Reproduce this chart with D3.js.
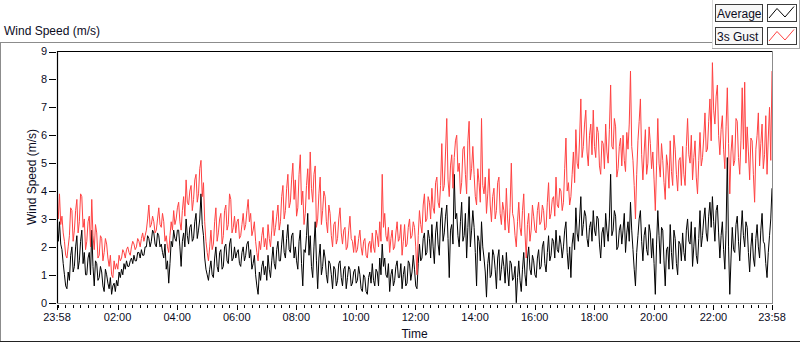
<!DOCTYPE html>
<html>
<head>
<meta charset="utf-8">
<script src="https://cdn.jsdelivr.net/npm/d3@7/dist/d3.min.js"></script>
<style>
  html, body { margin: 0; padding: 0; background: #fff; }
  svg { display: block; font-family: 'Liberation Sans', Arial, sans-serif; }
</style>
</head>
<body>
<div id="chart"></div>
<script>
// one sample every 2.5 minutes, starting at 23:58, 24 h span
const SAMPLE_MIN = 2.5;
const SPAN_MIN = 1440;

const seriesNames = ['Average', '3s Gust'];

const xTickMinutes = [0, 122, 242, 362, 482, 602, 722, 842, 962, 1082, 1202, 1322, 1440];
const xTickLabels = ['23:58', '02:00', '04:00', '06:00', '08:00', '10:00', '12:00',
  '14:00', '16:00', '18:00', '20:00', '22:00', '23:58'];
const yTicks = [0, 1, 2, 3, 4, 5, 6, 7, 8, 9];

// 3s gust (m/s), one row per hour
const gust = [
  3.4, 3.0, 3.9, 2.8, 3.1, 2.5, 2.2, 1.7, 1.6, 2.0, 2.4, 3.4, 3.3, 2.2, 2.6, 3.3, 3.7, 2.5, 2.9, 3.9, 3.8, 2.7, 3.0, 1.9,
  2.2, 2.9, 3.1, 2.0, 3.7, 2.4, 1.9, 2.8, 2.5, 1.6, 1.7, 2.4, 2.3, 1.5, 1.8, 2.3, 2.1, 1.6, 1.3, 1.7, 1.0, 0.9, 1.5, 1.2,
  1.4, 1.2, 1.7, 1.5, 1.6, 1.9, 1.8, 1.6, 1.9, 2.0, 1.8, 1.7, 2.0, 2.2, 2.1, 1.9, 2.0, 2.3, 2.2, 2.0, 2.3, 2.5, 2.2, 2.4,
  2.6, 3.0, 3.5, 2.7, 2.8, 3.1, 2.9, 2.5, 2.6, 3.0, 3.4, 2.8, 2.7, 3.2, 2.9, 2.2, 2.4, 2.0, 1.8, 2.4, 2.9, 2.6, 3.3, 2.8,
  3.0, 3.4, 3.6, 2.9, 2.6, 3.3, 3.8, 3.1, 4.4, 3.6, 3.5, 4.0, 4.2, 3.3, 3.7, 4.4, 4.6, 3.6, 3.9, 4.8, 5.1, 3.8, 4.3, 2.9,
  2.2, 1.8, 1.5, 2.0, 2.6, 1.9, 2.1, 2.9, 3.4, 2.2, 2.5, 3.0, 3.2, 2.1, 2.4, 3.3, 3.5, 2.6, 2.8, 3.9, 3.7, 2.5, 2.7, 3.1,
  2.5, 2.9, 3.0, 2.3, 2.4, 2.8, 3.2, 2.6, 2.8, 3.3, 3.7, 2.9, 3.2, 2.4, 2.6, 2.9, 2.2, 1.8, 1.5, 2.2, 1.9, 2.4, 2.7, 2.0,
  2.3, 1.9, 2.8, 2.3, 2.0, 2.6, 3.3, 2.4, 2.7, 3.1, 3.5, 2.6, 2.9, 3.8, 4.2, 3.0, 3.3, 4.1, 4.6, 3.4, 3.6, 4.4, 5.0, 3.7,
  4.4, 3.1, 3.4, 4.6, 5.3, 3.5, 4.0, 2.8, 3.2, 4.2, 4.8, 3.7, 5.4, 4.1, 3.6, 4.6, 4.9, 2.7, 3.0, 3.9, 4.5, 2.8, 3.3, 4.0,
  3.8, 2.9, 2.5, 3.5, 3.2, 2.4, 2.0, 2.8, 2.9, 2.1, 2.3, 3.0, 3.4, 2.5, 2.1, 2.6, 2.7, 1.9, 2.0, 2.6, 3.1, 2.3, 2.2, 1.8,
  2.4, 1.8, 1.9, 2.3, 2.6, 2.0, 1.7, 2.2, 2.3, 1.7, 1.6, 2.1, 2.2, 1.8, 2.5, 2.0, 1.8, 2.6, 2.4, 2.0, 2.9, 2.2, 4.6, 2.7,
  3.2, 2.4, 2.2, 2.7, 1.8, 2.3, 2.6, 1.9, 2.0, 2.5, 2.9, 2.2, 2.3, 2.8, 1.7, 2.2, 2.8, 2.0, 2.1, 2.7, 3.0, 2.3, 2.4, 2.9,
  2.7, 2.0, 1.0, 2.4, 3.3, 2.8, 2.5, 3.5, 3.9, 2.9, 3.0, 3.8, 3.6, 3.0, 4.1, 3.4, 3.2, 4.3, 4.5, 3.6, 3.4, 4.2, 5.7, 4.0,
  4.2, 5.4, 6.6, 4.4, 3.8, 4.9, 5.3, 4.1, 5.2, 5.8, 6.0, 4.7, 5.0, 3.9, 4.3, 5.5, 5.6, 4.6, 3.9, 5.8, 6.5, 4.4, 4.8, 5.6,
  4.6, 3.8, 3.5, 4.8, 4.3, 3.6, 6.6, 4.2, 3.9, 4.5, 3.2, 3.9, 4.8, 3.5, 2.9, 3.8, 4.1, 3.0, 3.3, 4.3, 4.5, 3.2, 2.8, 3.6,
  3.3, 2.6, 4.1, 3.0, 2.5, 3.4, 5.0, 3.2, 3.0, 2.4, 2.0, 2.9, 3.6, 2.7, 2.4, 3.3, 3.9, 2.5, 1.6, 2.8, 3.2, 2.2, 2.6, 3.5,
  3.1, 2.6, 2.5, 3.3, 3.6, 2.8, 2.9, 3.5, 3.3, 2.6, 2.7, 3.6, 4.3, 3.0, 3.2, 3.7, 3.8, 3.1, 4.5, 3.5, 3.4, 4.1, 4.0, 3.3,
  3.6, 4.8, 5.9, 4.0, 4.3, 3.5, 3.8, 4.6, 5.4, 4.3, 6.2, 5.0, 4.8, 5.9, 7.3, 5.2, 5.6, 6.4, 6.9, 5.4, 4.9, 6.0, 6.4, 5.3,
  6.9, 5.6, 5.2, 6.3, 6.1, 4.9, 4.6, 5.8, 5.7, 4.8, 6.4, 5.4, 5.0, 6.2, 7.8, 5.6, 5.5, 6.6, 6.3, 4.5, 4.8, 5.6, 5.9, 4.9,
  6.0, 5.1, 4.7, 6.1, 5.5, 6.4, 8.3, 5.6, 5.1, 4.2, 3.0, 4.6, 5.8, 6.5, 7.3, 5.3, 4.4, 5.4, 6.2, 4.6, 5.0, 6.3, 5.7, 4.8,
  5.4, 4.4, 3.3, 4.9, 6.6, 5.0, 4.5, 5.7, 5.1, 4.3, 3.7, 5.3, 4.9, 4.1, 5.8, 4.7, 4.2, 6.0, 5.5, 4.6, 4.0, 5.1, 5.2, 4.2,
  5.6, 4.6, 4.2, 5.6, 6.6, 5.3, 5.0, 6.0, 4.4, 5.2, 5.8, 4.5, 3.9, 5.1, 6.1, 4.9, 5.2, 5.9, 6.8, 5.4, 5.5, 6.5, 7.3, 5.8,
  8.6, 6.9, 6.4, 7.4, 7.8, 6.0, 5.3, 6.2, 6.7, 5.5, 4.8, 6.3, 7.7, 5.7, 3.9, 5.4, 6.0, 4.9, 5.1, 6.6, 6.5, 5.2, 4.6, 5.8,
  7.7, 5.5, 7.9, 5.0, 6.3, 5.4, 4.4, 5.9, 5.8, 4.6, 3.6, 5.5, 6.0, 6.8, 4.9, 5.7, 6.4, 4.8, 5.3, 6.7, 4.6, 5.9, 7.0, 5.1,
  8.3
];

// average (m/s)
const average = [
  2.6, 2.2, 2.9, 2.1, 1.9, 1.4, 1.0, 0.6, 0.5, 1.1, 0.8, 1.7, 2.0, 1.1, 1.3, 2.0, 2.4, 1.2, 1.5, 2.2, 2.6, 1.4, 1.8, 1.0,
  1.0, 1.6, 1.8, 1.0, 2.6, 1.3, 0.6, 1.5, 1.4, 0.8, 0.9, 1.3, 1.1, 0.6, 0.4, 1.2, 1.0, 0.7, 0.5, 0.9, 0.3, 0.6, 0.7, 0.4,
  0.8, 0.6, 1.1, 0.9, 1.2, 1.0, 1.4, 1.2, 1.5, 1.3, 1.3, 1.5, 1.6, 1.4, 1.7, 1.5, 1.5, 1.8, 1.8, 1.6, 1.9, 1.7, 1.7, 2.0,
  2.0, 2.4, 2.3, 2.0, 2.2, 2.6, 2.5, 2.1, 2.0, 2.5, 2.4, 2.0, 2.1, 1.8, 1.6, 2.1, 1.2, 1.5, 0.7, 1.4, 2.2, 2.0, 2.6, 2.3,
  2.2, 2.6, 2.6, 2.0, 1.3, 2.2, 2.5, 2.0, 3.0, 2.4, 2.1, 2.7, 2.8, 2.2, 2.3, 2.9, 3.2, 2.3, 2.6, 3.0, 3.9, 2.8, 2.4, 1.6,
  1.2, 1.0, 0.8, 1.2, 1.5, 1.0, 0.9, 1.6, 2.0, 1.3, 1.1, 1.8, 1.9, 1.2, 1.3, 2.0, 2.1, 1.5, 1.4, 2.1, 2.3, 1.5, 1.6, 2.0,
  1.6, 1.8, 1.9, 1.4, 1.3, 1.8, 2.0, 1.5, 1.7, 2.1, 2.2, 1.6, 1.9, 1.2, 1.4, 1.7, 1.0, 0.6, 0.3, 1.1, 0.8, 1.3, 1.5, 1.0,
  1.3, 0.8, 1.7, 1.2, 0.9, 1.5, 2.0, 1.4, 1.2, 1.9, 2.2, 1.5, 1.5, 2.1, 2.6, 1.8, 1.6, 2.3, 2.8, 1.9, 1.8, 2.4, 2.5, 1.6,
  2.0, 1.5, 1.2, 2.2, 2.6, 1.4, 0.6, 1.9, 1.8, 2.4, 3.2, 1.7, 2.4, 1.3, 0.9, 2.0, 2.9, 1.5, 0.5, 1.6, 2.1, 1.0, 1.3, 1.9,
  1.6, 1.0, 0.7, 1.5, 1.4, 1.0, 0.5, 1.3, 1.2, 0.6, 0.8, 1.4, 1.5, 0.9, 0.6, 1.2, 1.3, 0.5, 0.9, 1.3, 1.2, 0.6, 0.7, 1.1,
  1.2, 0.7, 0.8, 1.3, 1.0, 0.5, 0.4, 1.0, 0.9, 0.4, 0.3, 0.9, 1.1, 0.7, 1.4, 0.8, 0.6, 1.2, 1.1, 0.6, 1.6, 1.0, 2.1, 1.3,
  1.6, 1.0, 0.9, 1.4, 0.4, 1.0, 1.2, 0.6, 0.8, 1.3, 1.5, 0.9, 0.9, 1.4, 0.5, 1.0, 1.3, 0.6, 0.7, 1.5, 1.4, 0.8, 1.1, 1.7,
  1.2, 0.6, 0.5, 1.4, 2.1, 1.5, 1.6, 2.3, 2.5, 1.7, 1.8, 2.6, 2.3, 1.6, 2.8, 2.0, 1.4, 2.5, 2.9, 2.1, 1.7, 3.0, 3.4, 2.2,
  2.5, 3.1, 3.5, 2.3, 0.9, 2.6, 2.8, 2.1, 4.6, 3.0, 3.2, 2.4, 2.0, 2.9, 3.6, 2.2, 2.4, 3.2, 1.6, 2.7, 3.8, 2.0, 2.6, 3.3,
  2.7, 1.8, 0.6, 2.4, 2.2, 1.5, 2.9, 2.0, 1.6, 1.1, 0.2, 1.4, 1.8, 0.9, 1.0, 1.9, 1.7, 1.2, 0.5, 1.6, 1.9, 0.8, 1.2, 1.7,
  1.3, 0.7, 1.8, 1.1, 0.6, 1.5, 1.4, 0.8, 0.9, 1.3, 0.0, 0.9, 1.5, 0.8, 0.4, 1.2, 1.8, 1.0, 0.6, 1.6, 2.0, 1.2, 1.0, 1.7,
  1.5, 1.0, 0.9, 1.6, 1.9, 1.2, 1.3, 2.0, 2.2, 1.4, 1.1, 1.8, 2.4, 1.5, 1.7, 2.3, 2.2, 1.6, 2.6, 1.9, 1.8, 2.4, 2.1, 1.6,
  2.0, 2.6, 2.9, 1.8, 1.2, 2.0, 0.9, 2.1, 2.5, 1.9, 3.4, 2.5, 2.2, 3.0, 3.8, 2.4, 2.8, 3.3, 3.1, 2.3, 2.0, 2.7, 2.9, 2.2,
  3.3, 2.6, 2.4, 3.1, 3.0, 2.1, 1.6, 2.5, 2.7, 2.0, 3.2, 2.6, 2.2, 3.0, 4.6, 2.4, 2.6, 3.3, 3.1, 1.9, 2.0, 2.6, 2.8, 2.1,
  2.6, 3.2, 1.8, 2.5, 2.9, 2.2, 3.6, 2.6, 1.9, 1.2, 0.6, 1.8, 2.4, 3.0, 3.3, 2.2, 1.5, 2.4, 2.7, 1.9, 1.7, 2.8, 2.5, 1.6,
  2.3, 1.4, 0.3, 2.1, 3.3, 2.4, 1.4, 2.7, 2.6, 1.5, 0.6, 1.9, 2.0, 1.2, 2.8, 1.8, 1.2, 2.6, 2.3, 1.4, 1.0, 2.2, 2.1, 1.5,
  2.5, 1.8, 1.5, 2.6, 3.0, 2.2, 2.1, 2.9, 1.3, 2.0, 2.7, 1.7, 1.4, 2.3, 3.3, 2.0, 2.4, 3.0, 3.4, 2.5, 2.2, 3.1, 3.6, 2.7,
  3.8, 2.9, 2.2, 3.3, 3.5, 2.5, 1.6, 2.4, 2.9, 1.9, 1.2, 2.6, 5.2, 2.0, 0.3, 1.6, 2.7, 1.9, 1.8, 2.8, 3.1, 2.2, 1.5, 2.5,
  3.3, 2.4, 2.0, 2.9, 2.7, 1.8, 1.1, 2.0, 2.5, 1.6, 1.3, 2.3, 2.8, 2.0, 1.6, 2.6, 3.2, 2.2, 2.1, 1.4, 0.9, 1.8, 2.4, 3.0,
  4.1
];

const W = 800, H = 342;
const plot = { left: 57, right: 772, top: 51, bottom: 303 };
const colors = { avg: '#000000', gust: '#ff4242' };
const textColor = '#0c0c1e';

const svg = d3.select('#chart').append('svg')
  .attr('width', W)
  .attr('height', H);

// outer frame (LabVIEW style)
svg.append('line')
  .attr('x1', 0).attr('x2', 712).attr('y1', 42.5).attr('y2', 42.5)
  .attr('stroke', '#8c8c8c');
svg.append('line')
  .attr('x1', 0.5).attr('x2', 0.5).attr('y1', 42).attr('y2', 342)
  .attr('stroke', '#8c8c8c');
svg.append('line')
  .attr('x1', 0).attr('x2', W).attr('y1', 341.5).attr('y2', 341.5)
  .attr('stroke', '#222');

svg.append('text')
  .attr('x', 4).attr('y', 35)
  .attr('fill', textColor)
  .style('font-size', '12px')
  .text('Wind Speed (m/s)');

// scales
const x = d3.scaleLinear().domain([0, SPAN_MIN]).range([plot.left, plot.right]);
const y = d3.scaleLinear().domain([0, 9]).range([plot.bottom - 0.3, plot.top + 0.5]);

// clip for the plot area
svg.append('clipPath').attr('id', 'clip')
  .append('rect')
  .attr('x', plot.left).attr('y', plot.top)
  .attr('width', plot.right - plot.left).attr('height', plot.bottom - plot.top);

const line = d3.line()
  .x((d, i) => x(i * SAMPLE_MIN))
  .y(d => y(d));

const plotG = svg.append('g').attr('clip-path', 'url(#clip)');

plotG.append('path')
  .datum(average)
  .attr('fill', 'none')
  .attr('stroke', colors.avg)
  .attr('stroke-width', 1)
  .attr('d', line);

plotG.append('path')
  .datum(gust)
  .attr('fill', 'none')
  .attr('stroke', colors.gust)
  .attr('stroke-width', 1)
  .attr('d', line);

// plot box: black top/left, grey right/bottom
svg.append('line')
  .attr('x1', plot.left).attr('x2', plot.right + 1).attr('y1', plot.top + 0.5).attr('y2', plot.top + 0.5)
  .attr('stroke', '#000').attr('stroke-width', 1.2);
svg.append('line')
  .attr('x1', plot.left + 0.5).attr('x2', plot.left + 0.5).attr('y1', plot.top).attr('y2', plot.bottom + 1)
  .attr('stroke', '#000').attr('stroke-width', 1.2);
svg.append('line')
  .attr('x1', plot.right + 0.5).attr('x2', plot.right + 0.5).attr('y1', plot.top).attr('y2', plot.bottom + 1)
  .attr('stroke', '#8c8c8c');
svg.append('line')
  .attr('x1', plot.left).attr('x2', plot.right + 1).attr('y1', plot.bottom + 0.5).attr('y2', plot.bottom + 0.5)
  .attr('stroke', '#8c8c8c');

// y axis ticks + labels
const yAxis = svg.append('g').attr('class', 'y-axis');
yAxis.selectAll('line')
  .data(yTicks)
  .enter()
  .append('line')
  .attr('x1', 49).attr('x2', 56)
  .attr('y1', d => Math.round(y(d)) + 0.5)
  .attr('y2', d => Math.round(y(d)) + 0.5)
  .attr('stroke', '#000');
yAxis.selectAll('text')
  .data(yTicks)
  .enter()
  .append('text')
  .attr('x', 47)
  .attr('y', d => y(d))
  .attr('dy', '0.36em')
  .attr('text-anchor', 'end')
  .attr('fill', textColor)
  .style('font-size', '11px')
  .text(d => d);

svg.append('text')
  .attr('transform', `translate(36,${(plot.top + plot.bottom) / 2}) rotate(-90)`)
  .attr('text-anchor', 'middle')
  .attr('fill', textColor)
  .style('font-size', '12px')
  .text('Wind Speed (m/s)');

// x axis: minor ticks every 15 min on the clock, major at labels
const minorTicks = d3.range(2, SPAN_MIN, 15).filter(m => !xTickMinutes.includes(m));
const xAxis = svg.append('g').attr('class', 'x-axis');
xAxis.selectAll('line.minor')
  .data(minorTicks)
  .enter()
  .append('line')
  .attr('class', 'minor')
  .attr('x1', d => Math.round(x(d)) + 0.5)
  .attr('x2', d => Math.round(x(d)) + 0.5)
  .attr('y1', 305).attr('y2', 308)
  .attr('stroke', '#000');
xAxis.selectAll('line.major')
  .data(xTickMinutes)
  .enter()
  .append('line')
  .attr('class', 'major')
  .attr('x1', d => Math.round(x(d)) + 0.5)
  .attr('x2', d => Math.round(x(d)) + 0.5)
  .attr('y1', 305).attr('y2', 310)
  .attr('stroke', '#000');
xAxis.selectAll('text')
  .data(xTickMinutes)
  .enter()
  .append('text')
  .attr('x', d => x(d))
  .attr('y', 321)
  .attr('text-anchor', 'middle')
  .attr('fill', textColor)
  .style('font-size', '11px')
  .text((d, i) => xTickLabels[i]);

svg.append('text')
  .attr('x', (plot.left + plot.right) / 2)
  .attr('y', 338)
  .attr('text-anchor', 'middle')
  .attr('fill', textColor)
  .style('font-size', '12px')
  .text('Time');

// legend panel (top right)
const legend = svg.append('g').attr('class', 'legend');
legend.append('rect')
  .attr('x', 712).attr('y', 0).attr('width', 88).attr('height', 49)
  .attr('fill', '#fff');
legend.append('line')
  .attr('x1', 712.5).attr('x2', 712.5).attr('y1', 0).attr('y2', 49)
  .attr('stroke', '#d8d8d8');
legend.append('line')
  .attr('x1', 712).attr('x2', 800).attr('y1', 48.5).attr('y2', 48.5)
  .attr('stroke', '#a8a8a8');
legend.append('line')
  .attr('x1', 799.5).attr('x2', 799.5).attr('y1', 0).attr('y2', 49)
  .attr('stroke', '#a8a8a8');

const legendItems = legend.selectAll('.legend-item')
  .data(seriesNames)
  .enter()
  .append('g')
  .attr('class', 'legend-item')
  .attr('transform', (d, i) => `translate(0, ${i * 23})`);

legendItems.append('rect')
  .attr('x', 715.5).attr('y', 4.5).attr('width', 47).attr('height', 17)
  .attr('fill', '#f7f7f7')
  .attr('stroke', '#3c3c3c');
legendItems.append('text')
  .attr('x', 717).attr('y', 17.5)
  .attr('fill', textColor)
  .style('font-size', '12px')
  .text(d => d);
legendItems.append('rect')
  .attr('x', 767.5).attr('y', 4.5).attr('width', 29).attr('height', 17)
  .attr('fill', '#fff')
  .attr('stroke', '#3c3c3c');
legendItems.append('polyline')
  .attr('points', '769,18 777,8.5 785,17 794,6.5')
  .attr('fill', 'none')
  .attr('stroke', (d, i) => i === 0 ? colors.avg : colors.gust)
  .attr('stroke-width', 1);
</script>
</body>
</html>
